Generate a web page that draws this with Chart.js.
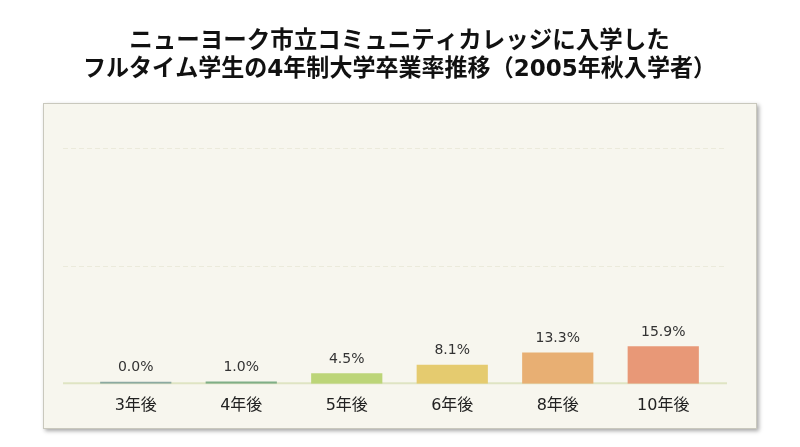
<!DOCTYPE html>
<html>
<head>
<meta charset="utf-8">
<script src="https://cdn.jsdelivr.net/npm/chart.js@4.4.0/dist/chart.umd.min.js"></script>
<style>
  html,body{margin:0;padding:0;background:#ffffff;}
  #wrap{width:800px;height:447px;position:relative;}
</style>
</head>
<body>
<div id="wrap"><canvas id="c" width="800" height="447"></canvas></div>
<script>
const categories = ["3年後", "4年後", "5年後", "6年後", "8年後", "10年後"];
const rates = [0.0, 1.0, 4.5, 8.1, 13.3, 15.9];
const valueLabels = ["0.0%", "1.0%", "4.5%", "8.1%", "13.3%", "15.9%"];
const barColors = ["#8ba9a1", "#7fae86", "#bcd578", "#e5cb6f", "#e8af73", "#e89877"];
const gridValues = [50, 100];
const titleLines = ["ニューヨーク市立コミュニティカレッジに入学した", "フルタイム学生の4年制大学卒業率推移（2005年秋入学者）"];

const fontFam = "'DejaVu Sans', 'Noto Sans CJK JP', sans-serif";

const panelPlugin = {
  id: 'panel',
  beforeDraw(chart) {
    const ctx = chart.ctx;
    ctx.save();
    ctx.fillStyle = '#ffffff';
    ctx.fillRect(0, 0, chart.width, chart.height);
    ctx.shadowColor = 'rgba(0,0,0,0.35)';
    ctx.shadowBlur = 4;
    ctx.shadowOffsetX = 2;
    ctx.shadowOffsetY = 2;
    ctx.fillStyle = '#f7f6ee';
    ctx.fillRect(43, 103, 714, 326);
    ctx.restore();
    ctx.save();
    ctx.strokeStyle = '#c9c8bd';
    ctx.lineWidth = 1;
    ctx.strokeRect(43.5, 103.5, 713, 325);
    ctx.restore();
  },
  beforeDatasetsDraw(chart) {
    const ctx = chart.ctx;
    const y = chart.scales.y;
    const area = chart.chartArea;
    ctx.save();
    ctx.strokeStyle = '#ebeadb';
    ctx.lineWidth = 1;
    ctx.setLineDash([5, 3]);
    gridValues.forEach(v => {
      const py = Math.round(y.getPixelForValue(v)) + 0.5;
      ctx.beginPath();
      ctx.moveTo(area.left - 20, py);
      ctx.lineTo(area.right + 11, py);
      ctx.stroke();
    });
    ctx.setLineDash([]);
    ctx.strokeStyle = '#dfe4c3';
    ctx.lineWidth = 2;
    const by = y.getPixelForValue(0) - 0.5;
    ctx.beginPath();
    ctx.moveTo(area.left - 20, by);
    ctx.lineTo(area.right + 11, by);
    ctx.stroke();
    ctx.restore();
  },
  afterDatasetsDraw(chart) {
    const ctx = chart.ctx;
    const meta = chart.getDatasetMeta(0);
    ctx.save();
    ctx.fillStyle = '#333333';
    ctx.font = "14px " + fontFam;
    ctx.textAlign = 'center';
    ctx.textBaseline = 'bottom';
    meta.data.forEach((bar, i) => {
      ctx.fillText(valueLabels[i], bar.x, bar.y - 7);
    });
    ctx.restore();
  }
};

new Chart(document.getElementById('c'), {
  type: 'bar',
  data: {
    labels: categories,
    datasets: [{
      data: rates,
      backgroundColor: barColors,
      borderWidth: 0,
      minBarLength: 2,
      barPercentage: 0.9,
      categoryPercentage: 0.75
    }]
  },
  options: {
    responsive: false,
    animation: false,
    devicePixelRatio: 1,
    layout: { padding: { left: 83, right: 84, top: 0, bottom: 20 } },
    plugins: {
      legend: { display: false },
      tooltip: { enabled: false },
      title: {
        display: true,
        text: titleLines,
        color: '#111111',
        font: { family: fontFam, size: 23.5, weight: 'bold', lineHeight: 1.19 },
        padding: { top: 28, bottom: 64 }
      }
    },
    scales: {
      x: {
        grid: { display: false, drawTicks: false },
        border: { display: false },
        ticks: { color: '#222222', font: { family: fontFam, size: 16 }, padding: 12 }
      },
      y: {
        display: false,
        min: 0,
        max: 100
      }
    }
  },
  plugins: [panelPlugin]
});
</script>
</body>
</html>
